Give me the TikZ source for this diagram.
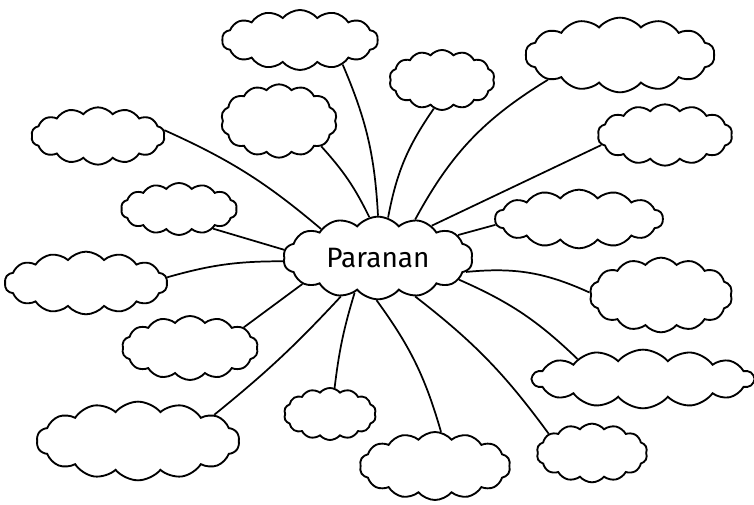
\documentclass[tikz,border=0pt]{standalone}
\usepackage{fontspec}
\setmainfont{Fira Sans}
\usetikzlibrary{shapes.symbols}

\tikzset{
  blob/.style={cloud, draw, line width=1.4pt, cloud puffs=14, cloud puff arc=100,
    cloud ignores aspect, inner sep=0pt},
  hub/.style={blob, fill=white, font=\fontsize{21}{25}\selectfont},
  link/.style={line width=1.3pt}
}

\begin{document}
\begin{tikzpicture}[x=0.75pt,y=0.75pt]
        \useasboundingbox (0,0) rectangle (754,505);
        \node[hub, minimum width=142pt, minimum height=62pt] (par) at (378,247) {Paranan};
        \node[blob, minimum width=117pt, minimum height=45pt] (c1) at (300,465) {};
        \node[blob, minimum width=87pt, minimum height=55pt] (c2) at (279,384) {};
        \node[blob, minimum width=100pt, minimum height=43pt] (c3) at (98,369) {};
        \node[blob, minimum width=87pt, minimum height=39pt] (c4) at (179,296) {};
        \node[blob, minimum width=122pt, minimum height=47pt] (c5) at (86,222) {};
        \node[blob, minimum width=102pt, minimum height=48pt] (c6) at (190,157) {};
        \node[blob, minimum width=152pt, minimum height=59pt] (c7) at (138,64) {};
        \node[blob, minimum width=69pt, minimum height=39pt] (c8) at (330,91) {};
        \node[blob, minimum width=113pt, minimum height=51pt] (c9) at (435,39) {};
        \node[blob, minimum width=83pt, minimum height=44pt] (c10) at (592,52) {};
        \node[blob, minimum width=166pt, minimum height=44pt] (c11) at (643,126) {};
        \node[blob, minimum width=107pt, minimum height=56pt] (c12) at (661,210) {};
        \node[blob, minimum width=126pt, minimum height=44pt] (c13) at (579,286) {};
        \node[blob, minimum width=101pt, minimum height=46pt] (c14) at (665,370) {};
        \node[blob, minimum width=142pt, minimum height=56pt] (c15) at (620,450) {};
        \node[blob, minimum width=79pt, minimum height=45pt] (c16) at (442,425) {};
        \draw[link] (c1.-30) to[bend left=10] (par.90);
        \draw[link] (c2.-31) to[bend left=8] (par.102);
        \draw[link] (c3.5) to[bend left=8] (par.153);
        \draw[link] (c4.-30) -- (par.175);
        \draw[link] (c5.4) to[bend left=8] (par.182);
        \draw[link] (c6.21) -- (par.199);
        \draw[link] (c7.19) to[bend right=4] (par.226);
        \draw[link] (c8.80) to[bend left=5] (par.236);
        \draw[link] (c9.80) to[bend right=10] (par.268);
        \draw[link] (c10.156) to[bend right=8] (par.-46);
        \draw[link] (c11.163) to[bend right=10] (par.-15);
        \draw[link] (c12.178) to[bend right=15] (par.-9);
        \draw[link] (c13.184) -- (par.16);
        \draw[link] (c14.189) -- (par.31);
        \draw[link] (c15.199) to[bend right=15] (par.46);
        \draw[link] (c16.254) to[bend right=12] (par.76);
\end{tikzpicture}
\end{document}
